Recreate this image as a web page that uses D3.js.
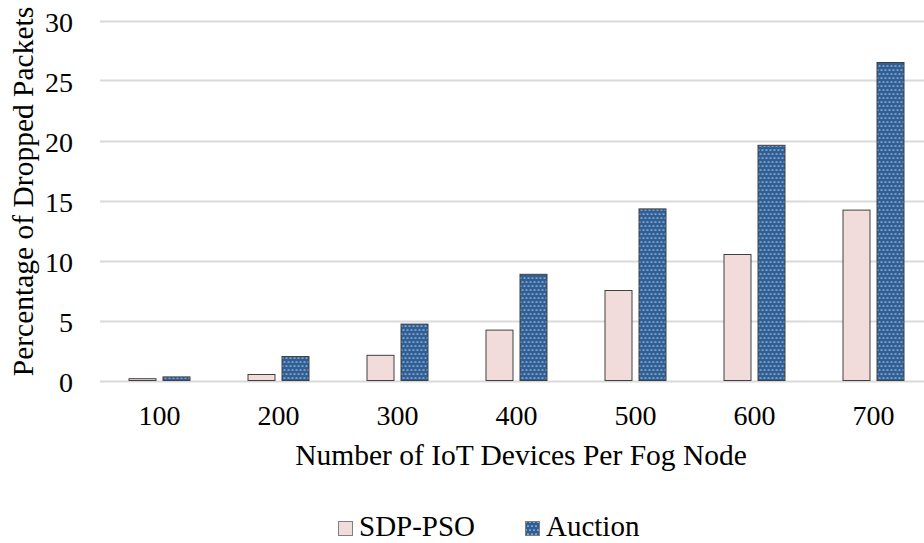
<!DOCTYPE html>
<html>
<head>
<meta charset="utf-8">
<script src="https://cdn.jsdelivr.net/npm/d3@7/dist/d3.min.js"></script>
<style>
  html, body { margin: 0; padding: 0; background: #fff; }
  svg { display: block; }
</style>
</head>
<body>
<svg id="chart" width="924" height="543"></svg>
<script>
// Devices per fog node and dropped-packet percentages for each scheme
const categories = ["100", "200", "300", "400", "500", "600", "700"];
const seriesNames = ["SDP-PSO", "Auction"];
const sdpPso = [0.15, 0.5, 2.1, 4.2, 7.5, 10.5, 14.2];
const auction = [0.3, 2.0, 4.7, 8.85, 14.3, 19.6, 26.5];
const yTicks = [0, 5, 10, 15, 20, 25, 30];

const FONT = "'Liberation Serif', 'Times New Roman', Tinos, 'DejaVu Serif', serif";

const svg = d3.select("#chart").attr("font-family", FONT);
const W = 924, H = 543;
const plot = { left: 100, right: 933, top: 20.5, bottom: 380.5 };

const rows = categories.map((c, i) => ({ cat: c, values: [sdpPso[i], auction[i]] }));

const x0 = d3.scaleBand().domain(categories).range([plot.left, plot.right]).paddingInner(0).paddingOuter(0);
const y = d3.scaleLinear().domain([0, 30]).range([plot.bottom, plot.top]);

// dotted fill for the Auction bars (staggered rows of small light dots)
const defs = svg.append("defs");
const pat = defs.append("pattern")
  .attr("id", "dots").attr("patternUnits", "userSpaceOnUse")
  .attr("width", 8).attr("height", 8);
pat.append("rect").attr("width", 8).attr("height", 8).attr("fill", "#2f5f94");
[[2, 2], [6, 2], [0, 6], [4, 6], [8, 6]].forEach(([cx, cy]) => {
  pat.append("circle").attr("cx", cx).attr("cy", cy).attr("r", 0.85).attr("fill", "#c0d6ee");
});

// horizontal gridlines
svg.append("g").selectAll("line").data(yTicks).join("line")
  .attr("x1", plot.left).attr("x2", W)
  .attr("y1", d => Math.round(y(d)) + 0.5).attr("y2", d => Math.round(y(d)) + 0.5)
  .attr("stroke", "#d9d9d9").attr("stroke-width", 2);

// y tick labels
svg.append("g").selectAll("text").data(yTicks).join("text")
  .attr("x", 73).attr("y", d => y(d)).attr("dy", "0.4em")
  .attr("text-anchor", "end").attr("font-size", 28)
  .text(d => d);

// bars
const barW = 27, innerGap = 7;
const fills = ["#f2dcdb", "url(#dots)"];
const groups = svg.append("g").selectAll("g").data(rows).join("g")
  .attr("transform", d => `translate(${x0(d.cat) + x0.bandwidth() / 2},0)`);
groups.selectAll("rect").data(d => d.values.map((v, j) => ({ v, j }))).join("rect")
  .attr("x", d => d.j === 0 ? -(barW + innerGap / 2) : innerGap / 2)
  .attr("width", barW)
  .attr("y", d => y(d.v))
  .attr("height", d => y(0) - y(d.v))
  .attr("fill", d => fills[d.j])
  .attr("stroke", "#404040").attr("stroke-width", 1);

// x tick labels
svg.append("g").selectAll("text").data(categories).join("text")
  .attr("x", d => x0(d) + x0.bandwidth() / 2).attr("y", 425)
  .attr("text-anchor", "middle").attr("font-size", 28)
  .text(d => d);

// axis titles
svg.append("text")
  .attr("x", 521).attr("y", 465).attr("text-anchor", "middle").attr("font-size", 29.5)
  .text("Number of IoT Devices Per Fog Node");
svg.append("text")
  .attr("transform", `translate(33,191.5) rotate(-90)`)
  .attr("text-anchor", "middle").attr("font-size", 29.5)
  .text("Percentage of Dropped Packets");

// legend
const legend = svg.append("g");
const legendItems = [{ name: seriesNames[0], x: 338 }, { name: seriesNames[1], x: 525 }];
legendItems.forEach((it, j) => {
  legend.append("rect").attr("x", it.x + 0.5).attr("y", 521.5).attr("width", 14).attr("height", 14)
    .attr("fill", fills[j]).attr("stroke", "#7f7f7f").attr("stroke-width", 1);
  legend.append("text").attr("x", it.x + 21).attr("y", 535.5).attr("font-size", 29).text(it.name);
});
</script>
</body>
</html>
